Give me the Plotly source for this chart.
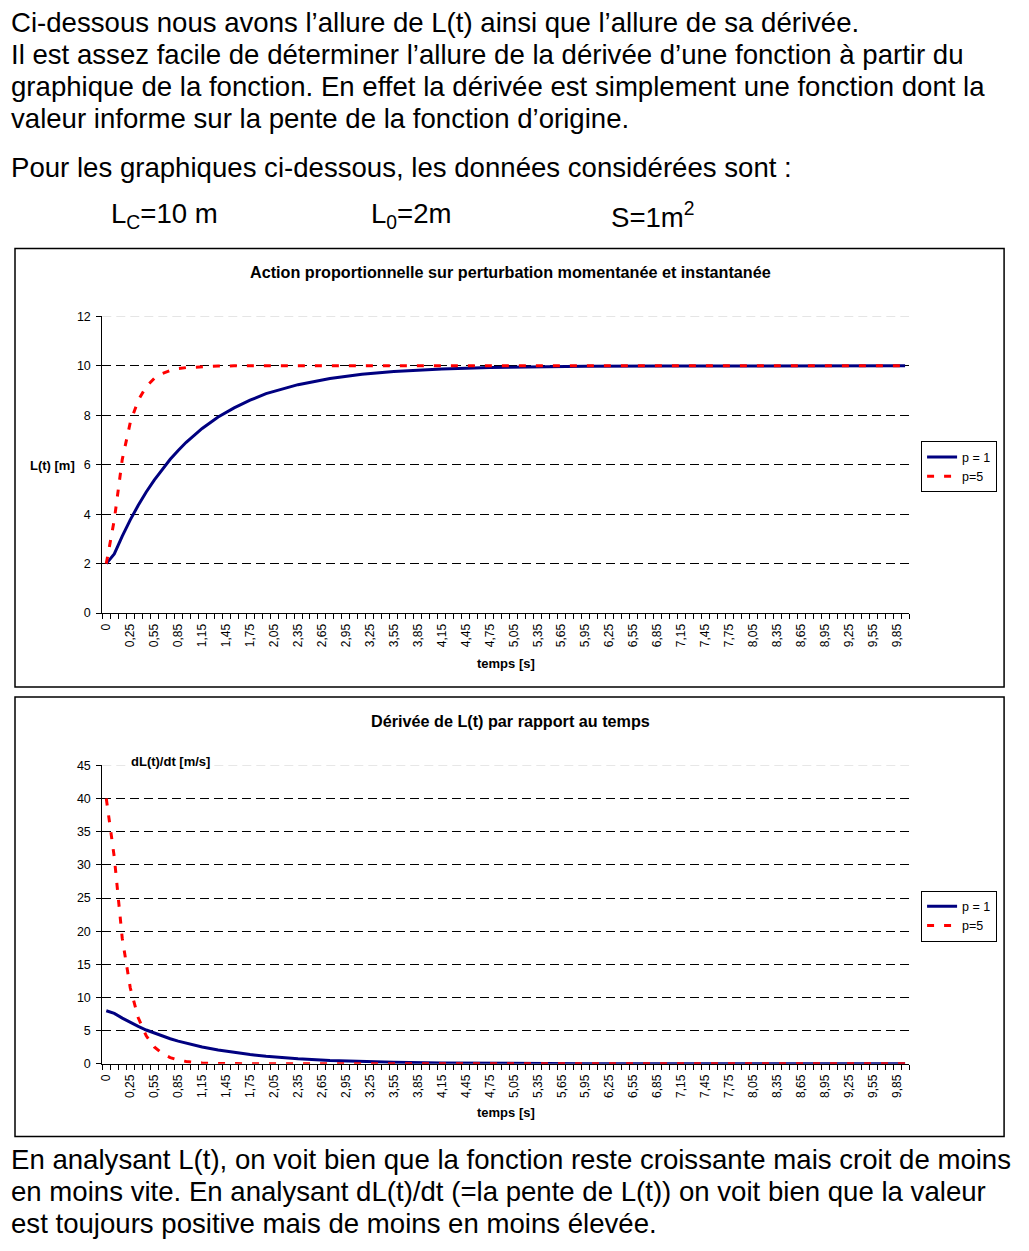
import plotly.graph_objects as go

W, H = 1029, 1251

# ---- data -------------------------------------------------------------
# Time axis categories (every third category is labelled)
tick_labels = ["0", "0,25", "0,55", "0,85", "1,15", "1,45", "1,75", "2,05", "2,35",
               "2,65", "2,95", "3,25", "3,55", "3,85", "4,15", "4,45", "4,75", "5,05",
               "5,35", "5,65", "5,95", "6,25", "6,55", "6,85", "7,15", "7,45", "7,75",
               "8,05", "8,35", "8,65", "8,95", "9,25", "9,55", "9,85"]
n_categories = 101

# L(t) [m]
idx_L_p1 = [0, 1, 2, 3, 4, 5, 6, 7, 8, 9, 10, 12, 14, 16, 18, 20, 24, 28, 32, 36,
            42, 48, 54, 60, 70, 80, 100]
L_p1 = [2.00, 2.39, 3.11, 3.77, 4.36, 4.90, 5.38, 5.82, 6.22, 6.58, 6.91, 7.47, 7.93,
        8.30, 8.61, 8.88, 9.24, 9.49, 9.66, 9.77, 9.87, 9.93, 9.96, 9.98, 9.99, 10.0, 10.0]

idx_L_p5 = [0, 1, 2, 3, 4, 5, 6, 7, 8, 9, 10, 12, 14, 16, 20, 30, 100]
L_p5 = [2.00, 3.77, 6.22, 7.71, 8.61, 9.16, 9.49, 9.69, 9.81, 9.89, 9.93, 9.97, 9.99,
        10.0, 10.0, 10.0, 10.0]

# dL(t)/dt [m/s]
idx_D_p1 = [0, 1, 2, 3, 4, 5, 6, 7, 8, 9, 10, 12, 14, 16, 18, 20, 24, 28, 32, 36,
            42, 48, 60, 80, 100]
D_p1 = [8.00, 7.61, 6.89, 6.23, 5.64, 5.10, 4.62, 4.18, 3.78, 3.42, 3.09, 2.53, 2.07,
        1.70, 1.39, 1.14, 0.76, 0.51, 0.34, 0.23, 0.13, 0.07, 0.02, 0.0, 0.0]

idx_D_p5 = [0, 1, 2, 3, 4, 5, 6, 7, 8, 9, 10, 11, 12, 14, 16, 20, 100]
D_p5 = [40.0, 31.15, 18.9, 11.46, 6.95, 4.22, 2.56, 1.55, 0.94, 0.57, 0.35, 0.21,
        0.13, 0.05, 0.02, 0.0, 0.0]

# ---- styling helpers ---------------------------------------------------
FONT = "Liberation Sans, Arial, sans-serif"
BLUE = "#000080"
RED = "#FF0000"

# page placement correction (offset / scale of the rendered page)
X_OFF, X_SCALE = 3.0, 0.997
Y_OFF, Y_SCALE = 6.2, 0.990


def px_x(x):
    return ((x - X_OFF) / X_SCALE) / W


def px_y(y):
    return 1 - ((y - Y_OFF) / Y_SCALE) / H


fig = go.Figure()

fig.add_trace(go.Scatter(x=idx_L_p1, y=L_p1, mode="lines", name="p = 1",
                         line=dict(color=BLUE, width=3), xaxis="x", yaxis="y",
                         legend="legend"))
fig.add_trace(go.Scatter(x=idx_L_p5, y=L_p5, mode="lines", name="p=5",
                         line=dict(color=RED, width=3, dash="7px,10px"),
                         xaxis="x", yaxis="y", legend="legend"))
fig.add_trace(go.Scatter(x=idx_D_p1, y=D_p1, mode="lines", name="p = 1",
                         line=dict(color=BLUE, width=3), xaxis="x2", yaxis="y2",
                         legend="legend2"))
fig.add_trace(go.Scatter(x=idx_D_p5, y=D_p5, mode="lines", name="p=5",
                         line=dict(color=RED, width=3, dash="7px,10px"),
                         xaxis="x2", yaxis="y2", legend="legend2"))

tick_positions = list(range(0, n_categories, 3))


def x_axis(anchor):
    return dict(
        domain=[px_x(102.3), px_x(909)], anchor=anchor,
        range=[-0.5, n_categories - 0.5], showgrid=False, zeroline=False,
        showline=True, linecolor="black", linewidth=1,
        tickmode="array", tickvals=tick_positions, ticktext=tick_labels,
        tickangle=-90, ticks="outside", ticklen=5, tickcolor="rgba(0,0,0,0)",
        tickfont=dict(family=FONT, size=12, color="black"),
        minor=dict(tickmode="linear", tick0=-0.5, dtick=1, ticks="outside",
                   ticklen=5, tickcolor="black", showgrid=False),
        fixedrange=True,
    )


def y_axis(anchor, top, bottom, rng, step):
    return dict(
        domain=[px_y(bottom), px_y(top)], anchor=anchor, range=rng, dtick=step,
        showline=True, linecolor="black", linewidth=1, zeroline=False,
        ticks="outside", ticklen=5, tickcolor="black", ticklabelstandoff=3,
        showgrid=True, gridcolor="black", gridwidth=1, griddash="9px,5px",
        tickfont=dict(family=FONT, size=12.5, color="black"), fixedrange=True,
    )


legend_style = dict(xanchor="left", yanchor="top", bgcolor="white",
                    bordercolor="black", borderwidth=1,
                    font=dict(family=FONT, size=12.5, color="black"),
                    tracegroupgap=0)

fig.update_layout(
    width=W, height=H, autosize=False,
    margin=dict(l=0, r=0, t=0, b=0),
    paper_bgcolor="white", plot_bgcolor="white",
    font=dict(family=FONT, color="black"),
    xaxis=x_axis("y"),
    yaxis=y_axis("x", 316, 613, [0, 12], 2),
    xaxis2=x_axis("y2"),
    yaxis2=y_axis("x2", 765.5, 1064.3, [0, 45], 5),
    legend=dict(x=px_x(921), y=px_y(441), **legend_style),
    legend2=dict(x=px_x(921), y=px_y(891), **legend_style),
)

# Top gridline of each chart, drawn lighter
for xr, yr, ytop in [("x", "y", 12), ("x2", "y2", 45)]:
    fig.add_shape(type="line", xref=f"{xr} domain", yref=yr, x0=0, x1=1,
                  y0=ytop, y1=ytop, layer="below",
                  line=dict(color="#c8c8c8", width=1, dash="9px,5px"))

# Chart frames
for top, bottom in [(248, 687), (697, 1137)]:
    fig.add_shape(type="rect", xref="paper", yref="paper",
                  x0=px_x(15), x1=px_x(1004), y0=px_y(bottom), y1=px_y(top),
                  line=dict(color="black", width=1.5), fillcolor="rgba(0,0,0,0)")


def text(x, y, s, size, anchor="left", bg=None):
    fig.add_annotation(xref="paper", yref="paper", x=px_x(x), y=px_y(y), text=s,
                       showarrow=False, xanchor=anchor, yanchor="middle",
                       font=dict(family=FONT, size=size, color="black"),
                       bgcolor=bg, borderpad=0)


# Body text
BODY = 27.6
body_top = [
    "Ci-dessous nous avons l’allure de L(t) ainsi que l’allure de sa dérivée.",
    "Il est assez facile de déterminer l’allure de la dérivée d’une fonction à partir du",
    "graphique de la fonction. En effet la dérivée est simplement une fonction dont la",
    "valeur informe sur la pente de la fonction d’origine.",
]
for i, line in enumerate(body_top):
    text(10, 22 + 32 * i, line, BODY)
text(10, 167, "Pour les graphiques ci-dessous, les données considérées sont :", BODY)
text(110, 215, "L<sub>C</sub>=10 m", BODY)
text(370, 215, "L<sub>0</sub>=2m", BODY)
text(610, 215, "S=1m<sup>2</sup>", BODY)

body_bottom = [
    "En analysant L(t), on voit bien que la fonction reste croissante mais croit de moins",
    "en moins vite. En analysant dL(t)/dt (=la pente de L(t)) on voit bien que la valeur",
    "est toujours positive mais de moins en moins élevée.",
]
for i, line in enumerate(body_bottom):
    text(10, 1160 + 32 * i, line, BODY)

# Chart titles and axis titles
text(510, 272, "<b>Action proportionnelle sur perturbation momentanée et instantanée</b>",
     16.2, anchor="center")
text(510, 721, "<b>Dérivée de L(t) par rapport au temps</b>", 16.2, anchor="center")
text(52, 465, "<b>L(t) [m]</b>", 13, anchor="center")
text(170, 762, "<b>dL(t)/dt [m/s]</b>", 13, anchor="center", bg="white")
text(506, 663, "<b>temps [s]</b>", 13, anchor="center")
text(506, 1113, "<b>temps [s]</b>", 13, anchor="center")

fig.write_html("out.html")
